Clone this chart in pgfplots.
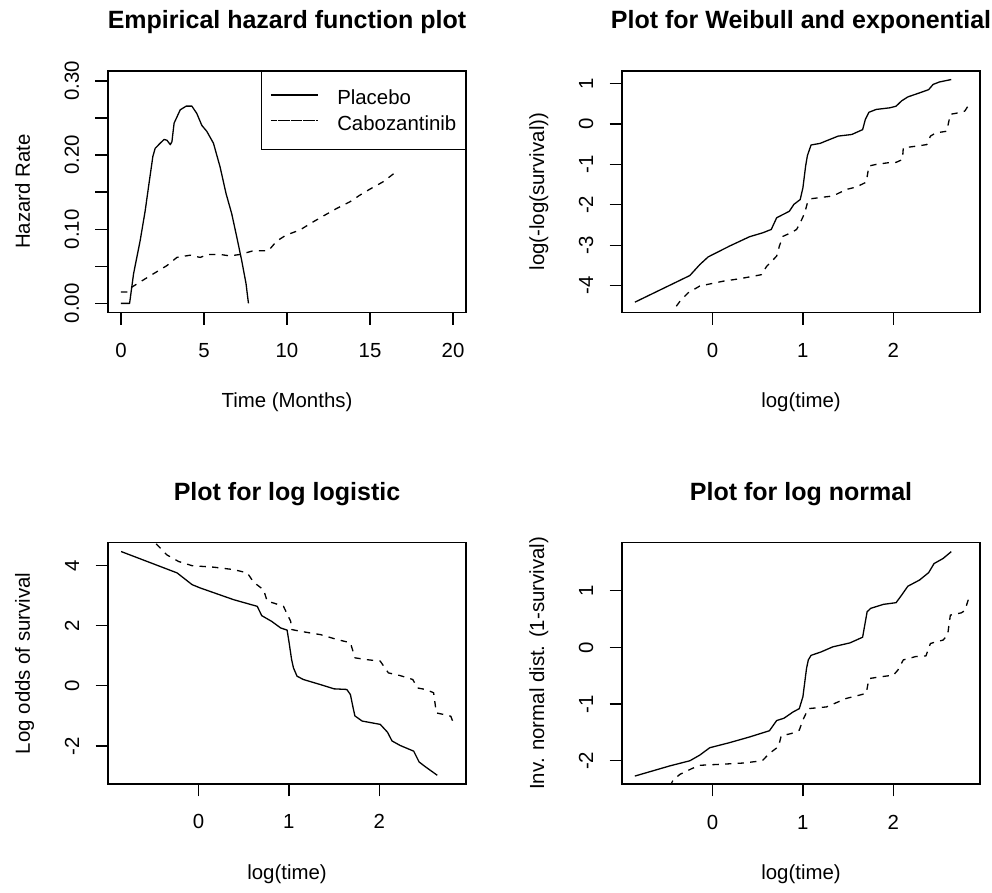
\documentclass[border=0pt]{standalone}
\usepackage{fontspec}
\setmainfont{Liberation Sans}
\usepackage{pgfplots}
\pgfplotsset{compat=1.18}

\newcommand\fs{\fontsize{20.4}{24}\selectfont}
\newcommand\ts{\fontsize{25}{30}\selectfont\bfseries}

\pgfplotsset{
  rplot/.style={
    scale only axis, width=358pt, height=241.4pt,
    axis line style={line width=1.3pt},
    tick align=outside, tick pos=left,
    major tick length=12.5pt,
    every tick/.style={black, line width=1.3pt},
    tick label style={font=\fs},
    label style={font=\fs},
    xticklabel style={anchor=base},
    xticklabel shift=32.5pt,
    yticklabel style={rotate=90, anchor=base},
    yticklabel shift=16.5pt,
    title style={at={(axis description cs:0.5,1)}, anchor=base, yshift=36pt, font=\ts},
    xlabel style={at={(axis description cs:0.5,0)}, anchor=base, yshift=-95pt},
    ylabel style={at={(axis description cs:-0.2179,0.5)}, anchor=base},
    clip=true, no markers,
    every axis plot/.append style={line width=1.3pt, black, line join=round, sharp plot},
  },
  solidline/.style={black, solid},
  dashline/.style={black, dash pattern=on 6.3pt off 6.3pt},
}

% hazard estimates (time in months, hazard rate)
\pgfplotstableread{
t h
0.00 0.000
0.52 0.000
0.76 0.040
1.16 0.085
1.46 0.125
1.66 0.157
1.92 0.198
2.06 0.209
2.36 0.216
2.60 0.221
2.77 0.220
2.97 0.214
3.07 0.218
3.20 0.243
3.57 0.261
3.93 0.266
4.27 0.266
4.57 0.256
4.87 0.240
5.17 0.232
5.57 0.216
5.97 0.184
6.33 0.148
6.67 0.121
6.97 0.090
7.27 0.058
7.53 0.027
7.68 0.000
}\hazPlacebo
\pgfplotstableread{
t h
0.00 0.0153
0.46 0.0153
0.66 0.022
1.16 0.029
1.96 0.040
2.77 0.051
3.37 0.062
4.17 0.065
4.77 0.062
5.27 0.066
5.97 0.066
6.57 0.064
7.17 0.066
7.98 0.071
8.88 0.071
9.38 0.084
9.94 0.092
10.78 0.099
11.58 0.110
12.28 0.119
12.99 0.128
13.79 0.137
14.39 0.146
14.99 0.154
15.79 0.164
16.49 0.176
}\hazCabo

% log(-log(S)) against log(time)
\pgfplotstableread{
x y
-0.858 -4.41
-0.25 -3.75
-0.14 -3.48
-0.048 -3.29
0.19 -3.02
0.41 -2.79
0.56 -2.69
0.65 -2.61
0.71 -2.32
0.78 -2.24
0.85 -2.16
0.90 -1.99
0.97 -1.87
1.00 -1.58
1.03 -1.04
1.05 -0.78
1.09 -0.52
1.19 -0.48
1.30 -0.38
1.39 -0.30
1.54 -0.26
1.66 -0.14
1.69 0.11
1.73 0.29
1.81 0.36
1.96 0.40
2.03 0.44
2.09 0.57
2.16 0.67
2.29 0.77
2.39 0.85
2.44 0.98
2.51 1.04
2.64 1.10
}\wbPlacebo
\pgfplotstableread{
x y
-0.40 -4.51
-0.36 -4.39
-0.27 -4.18
-0.14 -4.01
0.12 -3.89
0.30 -3.83
0.54 -3.73
0.60 -3.52
0.71 -3.27
0.74 -3.02
0.78 -2.78
0.87 -2.69
0.93 -2.61
0.97 -2.45
1.02 -2.20
1.05 -1.95
1.09 -1.85
1.30 -1.79
1.37 -1.74
1.48 -1.62
1.59 -1.56
1.70 -1.44
1.73 -1.04
1.81 -1.00
1.94 -0.96
2.03 -0.95
2.10 -0.88
2.11 -0.59
2.25 -0.55
2.37 -0.51
2.41 -0.30
2.47 -0.22
2.59 -0.18
2.63 0.24
2.73 0.28
2.79 0.32
2.83 0.46
}\wbCabo

% log odds of survival against log(time)
\pgfplotstableread{
x y
-0.855 4.46
-0.236 3.75
-0.07 3.36
0.02 3.25
0.39 2.86
0.65 2.64
0.70 2.33
0.81 2.14
0.91 1.92
0.98 1.85
1.00 1.48
1.03 0.87
1.05 0.60
1.09 0.32
1.16 0.21
1.35 0.04
1.50 -0.10
1.64 -0.12
1.68 -0.29
1.71 -0.73
1.73 -1.00
1.81 -1.17
2.01 -1.28
2.09 -1.54
2.14 -1.83
2.23 -1.98
2.38 -2.17
2.44 -2.53
2.51 -2.69
2.64 -2.97
}\llPlacebo
\pgfplotstableread{
x y
-0.52 5.10
-0.475 4.74
-0.35 4.35
-0.22 4.13
-0.07 3.99
0.17 3.94
0.39 3.86
0.54 3.75
0.61 3.44
0.72 3.19
0.76 2.81
0.83 2.75
0.94 2.64
1.02 2.14
1.03 1.87
1.13 1.81
1.35 1.70
1.53 1.54
1.68 1.43
1.73 0.93
1.86 0.87
2.01 0.82
2.10 0.43
2.23 0.34
2.37 0.21
2.42 -0.07
2.51 -0.12
2.60 -0.23
2.63 -0.90
2.71 -0.95
2.79 -1.01
2.81 -1.17
}\llCabo

% inverse normal of (1 - S) against log(time)
\pgfplotstableread{
x y
-0.858 -2.27
-0.47 -2.09
-0.25 -2.00
-0.14 -1.90
-0.03 -1.77
0.19 -1.68
0.41 -1.58
0.63 -1.47
0.71 -1.29
0.79 -1.25
0.89 -1.14
0.96 -1.08
1.00 -0.87
1.04 -0.37
1.06 -0.22
1.09 -0.14
1.20 -0.08
1.33 0.01
1.52 0.08
1.66 0.18
1.71 0.63
1.75 0.69
1.89 0.76
2.03 0.79
2.09 0.92
2.16 1.08
2.29 1.19
2.39 1.32
2.45 1.48
2.55 1.57
2.64 1.69
}\lnPlacebo
\pgfplotstableread{
x y
-0.47 -2.45
-0.435 -2.34
-0.36 -2.24
-0.23 -2.14
-0.14 -2.08
0.12 -2.06
0.34 -2.04
0.55 -2.00
0.63 -1.87
0.73 -1.75
0.76 -1.56
0.87 -1.52
0.96 -1.46
1.00 -1.28
1.06 -1.08
1.26 -1.05
1.48 -0.90
1.63 -0.84
1.70 -0.81
1.73 -0.55
1.85 -0.52
2.00 -0.49
2.05 -0.40
2.11 -0.22
2.25 -0.16
2.36 -0.15
2.41 0.07
2.55 0.13
2.60 0.22
2.63 0.57
2.75 0.61
2.79 0.65
2.83 0.85
}\lnCabo

\begin{document}
\begin{tikzpicture}
\useasboundingbox (0,0) rectangle (992pt,893pt);

% top left: empirical hazard
\begin{axis}[rplot, at={(108pt,580.7pt)}, anchor=south west,
  xmin=-0.78, xmax=20.78, ymin=-0.012, ymax=0.3135,
  xtick={0,5,10,15,20}, xticklabels={0,5,10,15,20},
  ytick={0,0.05,0.1,0.15,0.2,0.25,0.3}, yticklabels={0.00,,0.10,,0.20,,0.30},
  title={Empirical hazard function plot},
  xlabel={Time (Months)}, ylabel={Hazard Rate},
  legend style={at={(1,1)}, anchor=north east, draw=black, line width=1.3pt,
    inner xsep=9pt, inner ysep=18pt, row sep=9.5pt, font=\fs,
    nodes={inner sep=0pt},
    /tikz/every odd column/.append style={column sep=18.7pt}},
  legend cell align=left,
  legend image code/.code={\path (0pt,2.8pt) -- (47pt,2.8pt); \draw[#1] (7pt,2.8pt) -- (47pt,2.8pt);},
]
\addplot[solidline] table[x=t, y=h] {\hazPlacebo};
\addlegendentry{Placebo}
\addplot[dashline] table[x=t, y=h] {\hazCabo};
\addlegendentry{Cabozantinib}
\end{axis}

% top right: Weibull / exponential check
\begin{axis}[rplot, at={(622pt,580.7pt)}, anchor=south west,
  xmin=-1.0, xmax=2.958, ymin=-4.66, ymax=1.314,
  xtick={0,1,2}, xticklabels={0,1,2},
  ytick={-4,-3,-2,-1,0,1}, yticklabels={-4,-3,-2,-1,0,1},
  title={Plot for Weibull and exponential},
  xlabel={log(time)}, ylabel={log(-log(survival))},
]
\addplot[solidline] table[x=x, y=y] {\wbPlacebo};
\addplot[dashline] table[x=x, y=y] {\wbCabo};
\end{axis}

% bottom left: log-logistic check
\begin{axis}[rplot, at={(108pt,109pt)}, anchor=south west,
  xmin=-1.0, xmax=2.958, ymin=-3.26, ymax=4.757,
  xtick={0,1,2}, xticklabels={0,1,2},
  ytick={-2,0,2,4}, yticklabels={-2,0,2,4},
  title={Plot for log logistic},
  xlabel={log(time)}, ylabel={Log odds of survival},
]
\addplot[solidline] table[x=x, y=y] {\llPlacebo};
\addplot[dashline] table[x=x, y=y] {\llCabo};
\end{axis}

% bottom right: log-normal check
\begin{axis}[rplot, at={(622pt,109pt)}, anchor=south west,
  xmin=-1.0, xmax=2.958, ymin=-2.41, ymax=1.85,
  xtick={0,1,2}, xticklabels={0,1,2},
  ytick={-2,-1,0,1}, yticklabels={-2,-1,0,1},
  title={Plot for log normal},
  xlabel={log(time)}, ylabel={Inv. normal dist. (1-survival)},
]
\addplot[solidline] table[x=x, y=y] {\lnPlacebo};
\addplot[dashline] table[x=x, y=y] {\lnCabo};
\end{axis}
\end{tikzpicture}
\end{document}
